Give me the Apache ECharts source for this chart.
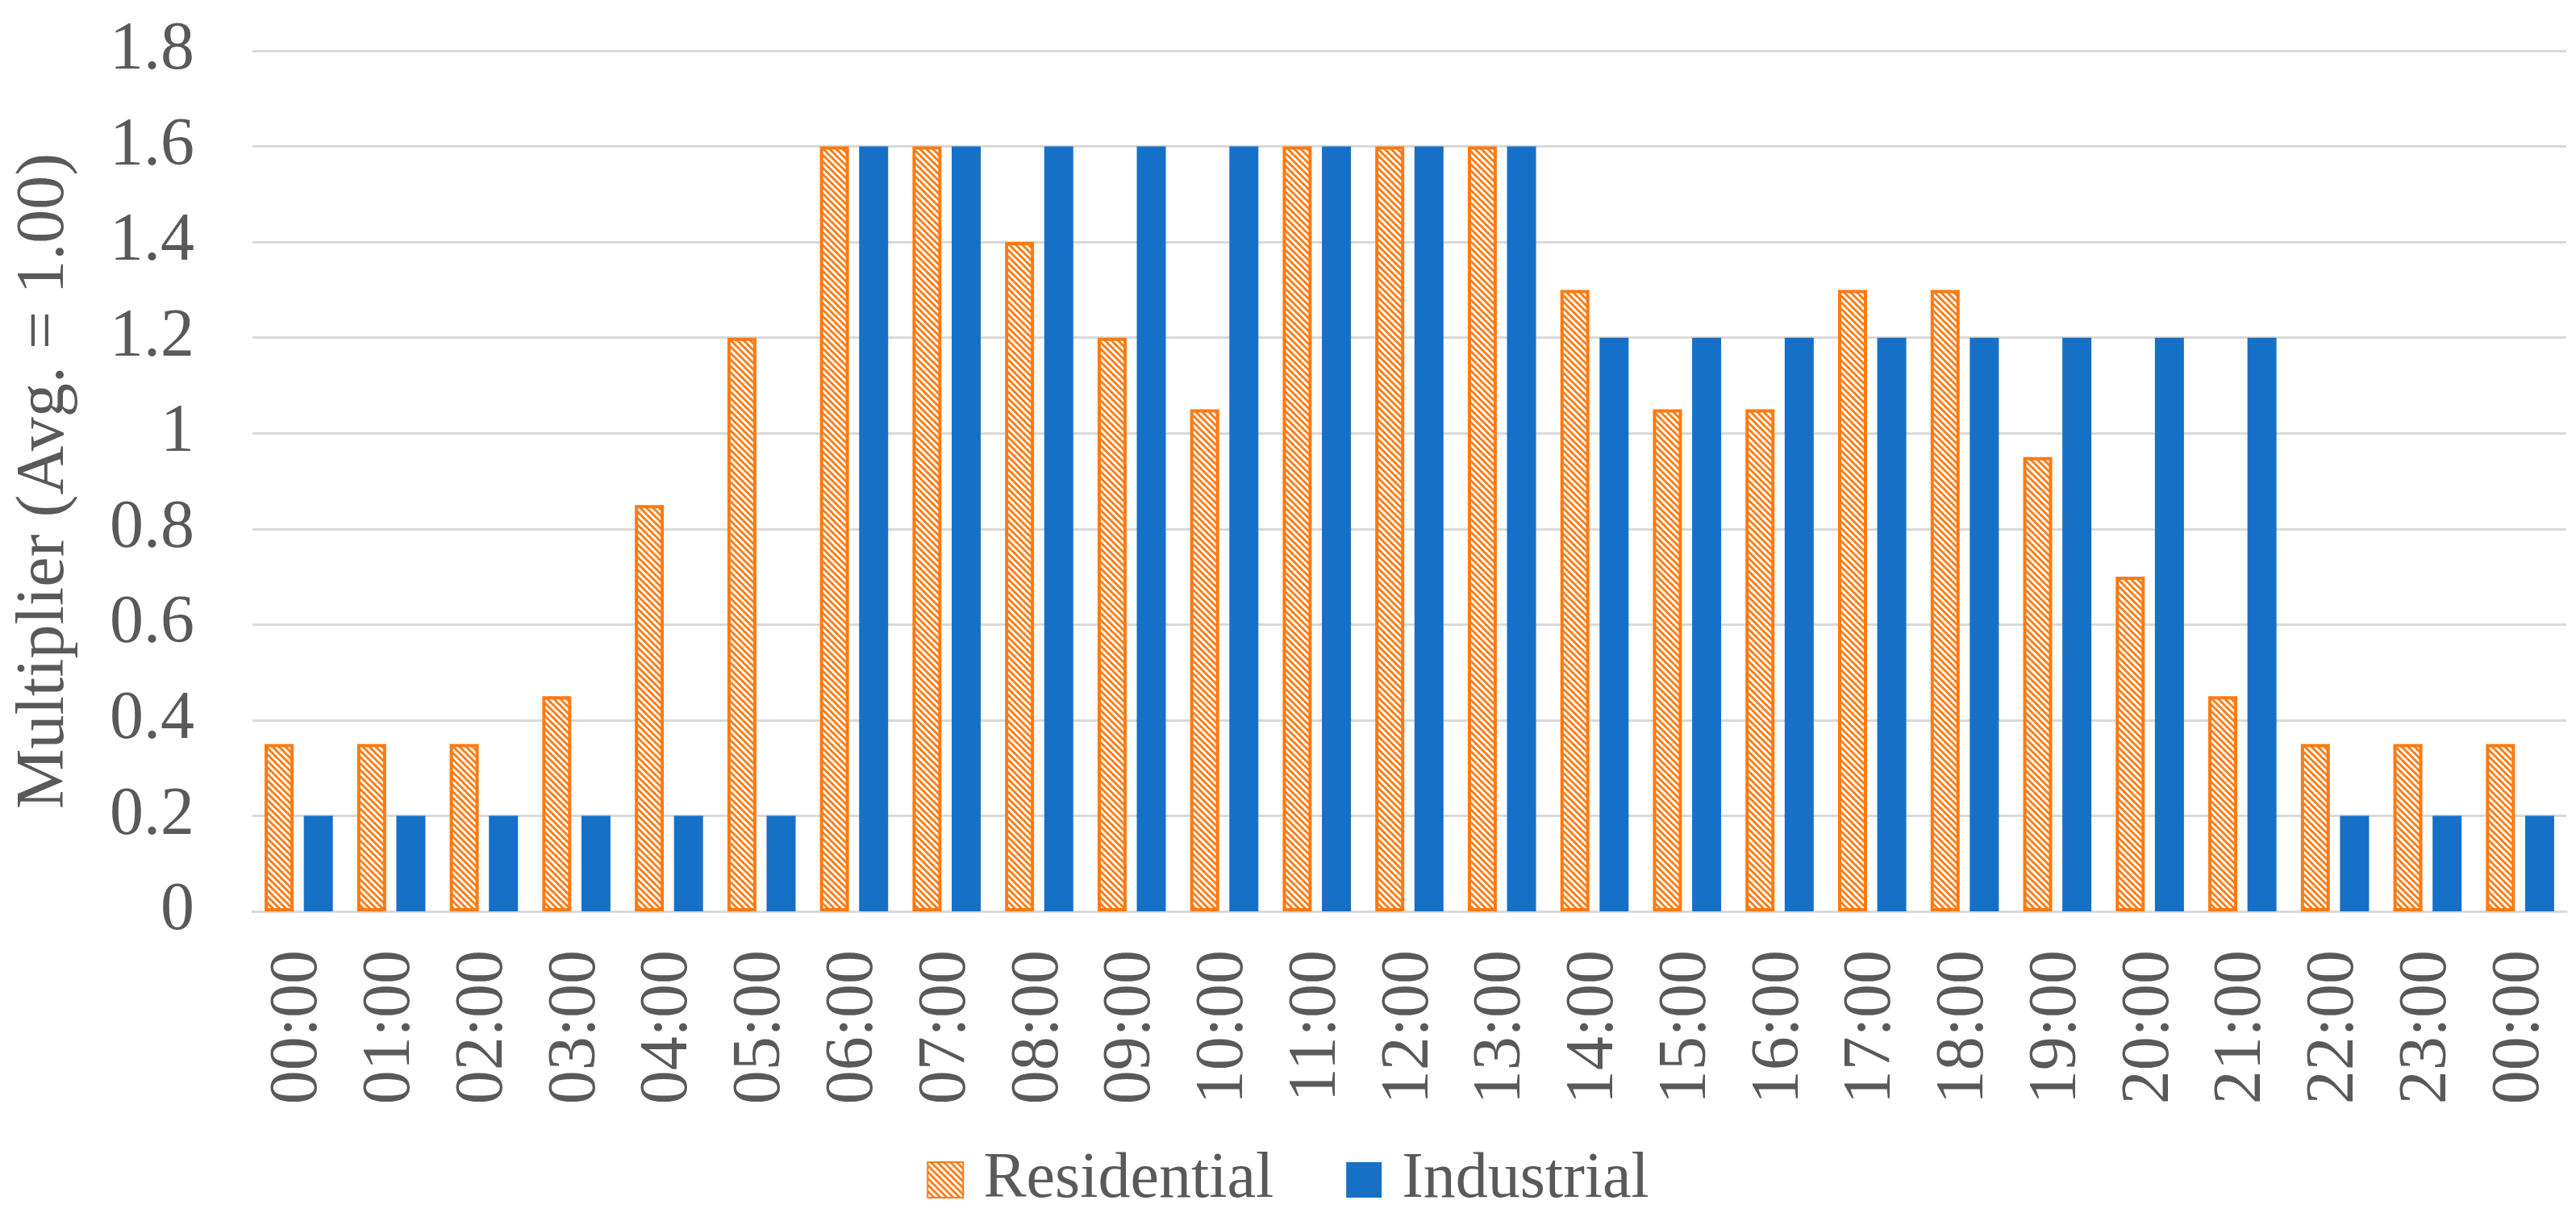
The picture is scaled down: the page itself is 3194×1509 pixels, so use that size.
<!DOCTYPE html>
<html>
<head>
<meta charset="utf-8">
<script src="https://cdn.jsdelivr.net/npm/echarts@6/dist/echarts.min.js"></script>
<style>
html,body{margin:0;padding:0;background:#fff;}
#c{width:3194px;height:1509px;}
</style>
</head>
<body>
<div id="c"></div>
<script>
const categories = ["00:00","01:00","02:00","03:00","04:00","05:00","06:00","07:00","08:00","09:00","10:00","11:00","12:00","13:00","14:00","15:00","16:00","17:00","18:00","19:00","20:00","21:00","22:00","23:00","00:00"];
const residential = [0.35,0.35,0.35,0.45,0.85,1.2,1.6,1.6,1.4,1.2,1.05,1.6,1.6,1.6,1.3,1.05,1.05,1.3,1.3,0.95,0.7,0.45,0.35,0.35,0.35];
const industrial = [0.2,0.2,0.2,0.2,0.2,0.2,1.6,1.6,1.6,1.6,1.6,1.6,1.6,1.6,1.2,1.2,1.2,1.2,1.2,1.2,1.2,1.2,0.2,0.2,0.2];
const seriesNames = ["Residential","Industrial"];
const yTicks = {min:0, max:1.8, interval:0.2};
const yAxisName = "Multiplier (Avg. = 1.00)";

const ORANGE = '#FF7A12';
const BLUE = '#1670C8';
const TXT = '#595959';
const FONT = '"Liberation Serif","Times New Roman",serif';

function hatch(){
  const s = 8;
  const cv = document.createElement('canvas');
  cv.width = s; cv.height = s;
  const g = cv.getContext('2d');
  g.fillStyle = ORANGE;
  g.fillRect(0,0,s,s);
  g.strokeStyle = '#ffffff';
  g.lineWidth = 2.8;
  g.lineCap = 'square';
  for (const off of [-s, 0, s]) {
    g.beginPath();
    g.moveTo(off - 2, -2);
    g.lineTo(off + s + 2, s + 2);
    g.stroke();
  }
  return cv;
}
const pattern = {image: hatch(), repeat: 'repeat'};

const chart = echarts.init(document.getElementById('c'), null, {renderer:'canvas'});
chart.setOption({
  animation: false,
  backgroundColor: '#ffffff',
  grid: {left: 313, right: 12, top: 63, bottom: 379, containLabel: false},
  legend: {
    data: [
      {name: seriesNames[0], icon: 'rect'},
      {name: seriesNames[1], icon: 'rect'}
    ],
    left: 'center',
    top: 1418,
    itemWidth: 44,
    itemHeight: 44,
    itemGap: 90,
    textStyle: {fontFamily: FONT, fontSize: 80, color: TXT, padding: [0,0,0,20]}
  },
  xAxis: {
    type: 'category',
    data: categories,
    axisLine: {show: true, lineStyle: {color: '#D9D9D9', width: 3}},
    axisTick: {show: false},
    axisLabel: {rotate: 90, margin: 48, fontFamily: FONT, fontSize: 84, color: TXT, interval: 0}
  },
  yAxis: {
    type: 'value',
    min: yTicks.min, max: yTicks.max, interval: yTicks.interval,
    name: yAxisName,
    nameLocation: 'middle',
    nameRotate: 90,
    nameGap: 215,
    nameTextStyle: {fontFamily: FONT, fontSize: 84, color: TXT},
    axisLine: {show: false},
    axisTick: {show: false},
    splitLine: {lineStyle: {color: '#D9D9D9', width: 3}},
    axisLabel: {margin: 72, fontFamily: FONT, fontSize: 84, color: TXT}
  },
  series: [
    {
      name: seriesNames[0], type: 'bar', data: residential,
      barWidth: 36, barGap: '35%',
      itemStyle: {color: pattern, borderColor: ORANGE, borderWidth: 4}
    },
    {
      name: seriesNames[1], type: 'bar', data: industrial,
      barWidth: 36, barGap: '35%',
      itemStyle: {color: BLUE}
    }
  ]
});
</script>
</body>
</html>
